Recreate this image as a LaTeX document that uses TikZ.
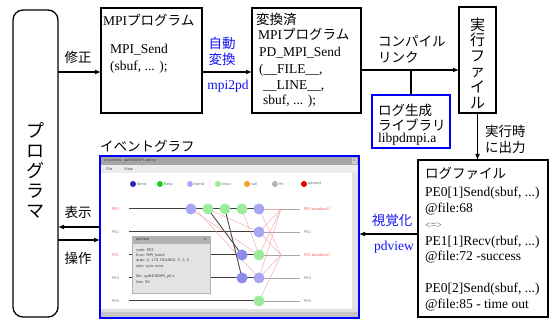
\documentclass[tikz,border=0pt]{standalone}
\usepackage{fontspec}
\setmainfont{Liberation Serif}
\newfontfamily\jp{Noto Sans CJK JP}
\newfontfamily\scrfont{DejaVu Sans}
\usetikzlibrary{arrows.meta}
\definecolor{lav}{HTML}{A6A6F2}
\definecolor{mlav}{HTML}{8C8CEC}
\definecolor{lgreen}{HTML}{9CEC9C}
\definecolor{dblue}{HTML}{2828C0}
\definecolor{mgreen}{HTML}{18D018}
\definecolor{pinkline}{HTML}{F2A2A2}
\definecolor{pered}{HTML}{F05A5A}
\definecolor{orng}{HTML}{F0A020}
\definecolor{lblue}{HTML}{1414F5}
\newcommand\fs{\fontsize{13.5}{16}\selectfont}
\newcommand\scr{\fontsize{3.6}{4.2}\selectfont\scrfont}
\begin{document}
\begin{tikzpicture}[x=1pt,y=-1pt,
  box/.style={draw, line width=1.3pt, inner sep=0pt, outer sep=0pt, anchor=north west},
  arr/.style={line width=1.3pt, -{Latex[length=6pt,width=5pt]}},
  lbl/.style={inner sep=0pt, font=\fs},
  tl/.style={lbl, anchor=west},
  jl/.style={lbl, font=\fs\jp},
  bl/.style={lbl, text=lblue},
  stxt/.style={inner sep=0pt, anchor=west, font=\scr},
  peline/.style={line width=1pt, black!75},
  thinline/.style={line width=0.4pt, gray!70},
  pk/.style={line width=0.4pt, pinkline},
  dk/.style={line width=0.9pt, black!70}
]
\useasboundingbox (0,0) rectangle (550,320);

% ---------- programmer ----------
\node[box, rounded corners=10pt, minimum width=45, minimum height=307] (prog) at (13,10) {};
\node[lbl, font=\fontsize{18}{20}\selectfont\jp, align=center] (progT) at (prog.center |- 0,170) {プ\\ロ\\グ\\ラ\\マ};

% ---------- MPI program ----------
\node[box, minimum width=101, minimum height=105] (mpi) at (101,8) {};
\node[tl] (mpiT) at (103,20) {MPI{\jp プログラム}};
\node[tl] (mpiA) at (110,50) {MPI\_Send};
\node[tl] (mpiB) at (110,67) {(sbuf, ... );};

% ---------- converted program ----------
\node[box, minimum width=109, minimum height=105] (conv) at (252,8) {};
\node[tl, font=\fs\jp] (convT1) at (256,19) {変換済};
\node[tl] (convT2) at (258,34) {MPI{\jp プログラム}};
\node[tl] (convA) at (259,53) {PD\_MPI\_Send};
\node[tl] (convB) at (259,70) {(\_\_FILE\_\_,};
\node[tl] (convC) at (263,86) {\_\_LINE\_\_,};
\node[tl] (convD) at (263,101) {sbuf, ... );};

% ---------- executable ----------
\node[box, minimum width=37, minimum height=106] (exec) at (459,7) {};
\node[lbl, font=\fontsize{15}{15.6}\selectfont\jp, align=center] (execT) at (exec.center |- 0,63) {実\\行\\フ\\ァ\\イ\\ル};

% ---------- library ----------
\node[box, draw=blue, line width=2.4pt, minimum width=78, minimum height=53] (lib) at (372,95) {};
\node[tl, font=\fs\jp] (libA) at (378,110) {ログ生成};
\node[tl, font=\fs\jp] (libB) at (378,125) {ライブラリ};
\node[tl] (libC) at (378,139) {libpdmpi.a};

% ---------- log file ----------
\node[box, minimum width=130, minimum height=157] (log) at (418,160) {};
\node[tl, font=\fs\jp] (logT) at (425,173) {ログファイル};
\node[tl] (logA) at (425,193) {PE0[1]Send(sbuf, ...)};
\node[tl] (logB) at (425,209) {@file:68};
\node[tl, font=\fontsize{10}{12}\selectfont, text=black!70] (logC) at (425,226) {<=>};
\node[tl] (logD) at (425,242) {PE1[1]Recv(rbuf, ...)};
\node[tl] (logE) at (425,257) {@file:72 -success};
\node[tl] (logF) at (425,289) {PE0[2]Send(sbuf, ...)};
\node[tl] (logG) at (425,305) {@file:85 - time out};

% ---------- screenshot (event graph) ----------
\node[tl, font=\fs\jp] (evT) at (100,146) {イベントグラフ};
\fill[white] (100,156) rectangle (359,318);
\fill[gray!70] (101,157) rectangle (358,165);
\node[stxt, text=black!75] (wtitle) at (104,161) {\# pdview: gaR4II0NPS.pdlog};
\fill[gray!40] (352,158) rectangle (357,164);
\node[stxt, text=black!70] (wclose) at (353,161) {x};
\fill[gray!15] (101,165) rectangle (358,173);
\node[stxt, text=black!70] (mfile) at (106,169) {File};
\node[stxt, text=black!70] (mview) at (124,169) {View};
\fill[gray!22] (352,173) rectangle (358,309);
\fill[gray!45] (101,309) rectangle (358,318);
\fill[gray!25] (101,309) rectangle (358,312);

% legend
\fill[dblue] (133,184) circle[radius=3pt];
\node[stxt, text=black!60] (lg1) at (137,184) {Send};
\fill[mgreen] (160,184) circle[radius=3pt];
\node[stxt, text=black!60] (lg2) at (164,184) {Recv};
\fill[lav] (190,184) circle[radius=3pt];
\node[stxt, text=black!60] (lg3) at (194,184) {Isend};
\fill[lgreen] (218,184) circle[radius=3pt];
\node[stxt, text=black!60] (lg4) at (222,184) {Irecv};
\fill[orng] (247,184) circle[radius=3pt];
\node[stxt, text=black!60] (lg5) at (251,184) {call};
\fill[gray!60] (275,184) circle[radius=3pt];
\node[stxt, text=black!60] (lg6) at (279,184) {fin};
\fill[red!85!black] (304,184) circle[radius=3pt];
\node[stxt, text=black!60] (lg7) at (308,184) {passert};

% process lines
\foreach \yy/\nm/\cl/\rt/\rc [count=\i] in {209/PE0/pered/PE0 deadlock?/pered, 232/PE1/black!55/PE1/black!55, 255/PE2/pered/PE2 deadlock?/pered, 278/PE3/black!55/PE3/black!55, 301/PE4/black!55/PE4/black!55}{
  \node[stxt, text=\cl] (pl\i) at (112,\yy) {\nm};
  \draw[peline] (129,\yy) -- (263,\yy);
  \draw[thinline] (263,\yy) -- (300,\yy);
  \node[stxt, text=\rc] (pr\i) at (304,\yy) {\rt};
}
% message lines
\draw[pk] (191,209) -- (259,255);
\draw[pk] (198,212) -- (259,278);
\draw[pk] (208,209) -- (259,232);
\draw[pk] (242,209) -- (259,255);
\draw[pk] (259,209) -- (281,255);
\draw[pk] (259,232) -- (281,209);
\draw[pk] (259,232) -- (281,255);
\draw[pk] (259,255) -- (281,209);
\draw[pk] (259,278) -- (281,209);
\draw[pk] (259,278) -- (281,255);
\draw[pk] (259,301) -- (281,255);
\draw[pk] (262,209) -- (281,209);
\draw[dk] (208,209) -- (242,255);
\draw[dk] (225,209) -- (242,278);
% events
\foreach \cx/\cy/\cc in {191/209/lav, 208/209/lgreen, 225/209/lgreen, 242/209/lgreen, 259/209/lav,
  259/232/lav, 242/255/mlav, 259/255/lgreen, 242/278/mlav, 259/278/lav, 259/301/lgreen}{
  \fill[\cc] (\cx,\cy) circle[radius=5.5pt];
}
% popup
\fill[gray!22] (132,236) rectangle (210,293);
\draw[gray!60, line width=0.4pt] (132,236) rectangle (210,293);
\fill[gray!60] (132,236) rectangle (210,244);
\node[stxt, text=black!80] (ptitle) at (136,240) {pdview};
\node[stxt, text=black!80] (pclose) at (204,240) {x};
\node[stxt, text=black!75] (p1) at (136,250) {rank: PE2};
\node[stxt, text=black!75] (p2) at (136,255.5) {func: MPI\_Isend};
\node[stxt, text=black!75] (p3) at (136,261) {args: 0, 170, DOUBLE, 2, 3, 0};
\node[stxt, text=black!75] (p4) at (136,266.5) {stat: sync error};
\node[stxt, text=black!75] (p5) at (136,277) {file: gaR4II0NPS\_p0.c};
\node[stxt, text=black!75] (p6) at (136,282.5) {line: 92};

\node[box, draw=blue, line width=1.5pt, minimum width=259, minimum height=162] (shot) at (100,156) {};

% ---------- connectors ----------
\draw[arr] (prog.east |- 0,72) -- (mpi.west |- 0,72);
\draw[arr] (mpi.east |- 0,72) -- (conv.west |- 0,72);
\draw[arr] (conv.east |- 0,70) -- (exec.west |- 0,70);
\draw[line width=1.3pt] (lib.north) -- (lib.north |- 0,70);
\draw[arr] (exec.south) -- (exec.south |- log.north);
\draw[arr] (log.west |- 0,234) -- (shot.east |- 0,234);
\draw[arr] (shot.west |- 0,227) -- (prog.east |- 0,227);
\draw[arr] (prog.east |- 0,240) -- (shot.west |- 0,240);

% ---------- labels ----------
\node[jl] (lShusei) at (78,57) {修正};
\node[lbl, font=\fs\jp, text=lblue, align=center] (lAuto) at (222,51) {自動\\変換};
\node[bl] (lMpi2pd) at (228,86) {mpi2pd};
\node[lbl, font=\fs\jp, align=left, anchor=north west] (lComp) at (378,35) {コンパイル\\リンク};
\node[lbl, font=\fs\jp, align=left, anchor=north west] (lRun) at (485,125) {実行時\\に出力};
\node[lbl, font=\fs\jp, text=lblue] (lVis) at (392,220) {視覚化};
\node[bl] (lPdview) at (394,247) {pdview};
\node[jl] (lShow) at (78,212) {表示};
\node[jl] (lOp) at (78,258) {操作};
\end{tikzpicture}
\end{document}
